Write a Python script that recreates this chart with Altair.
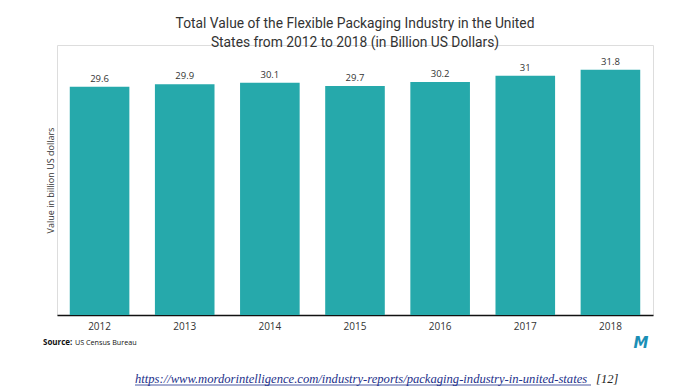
import altair as alt
import pandas as pd

years = ["2012", "2013", "2014", "2015", "2016", "2017", "2018"]
values = [29.6, 29.9, 30.1, 29.7, 30.2, 31.0, 31.8]
value_labels = ["29.6", "29.9", "30.1", "29.7", "30.2", "31", "31.8"]

title_lines = ["Total Value of the Flexible Packaging Industry in the United",
               "States from 2012 to 2018 (in Billion US Dollars)"]
y_title = "Value in billion US dollars"
source_bold = "Source:"
source_text = "US Census Bureau"
url_text = "https://www.mordorintelligence.com/industry-reports/packaging-industry-in-united-states"
ref_text = "[12]"

df = pd.DataFrame({"year": years, "value": values, "label": value_labels})

BAR = "#26a9ab"
TXT = "#333333"

x_enc = alt.X("year:N", sort=years,
              scale=alt.Scale(paddingInner=0.3, paddingOuter=0.15),
              axis=alt.Axis(title=None, labelAngle=0, ticks=False, domainColor="#111111",
                            domainWidth=1.5, labelFontSize=10, labelColor=TXT,
                            labelFont="Open Sans", labelPadding=6))
y_enc = alt.Y("value:Q", scale=alt.Scale(domain=[0, 35], nice=False),
              axis=alt.Axis(title=y_title, labels=False, ticks=False, domain=False, grid=False,
                            titleFontSize=9, titleFont="Open Sans", titleColor=TXT,
                            titleFontWeight="normal", titlePadding=2))

bars = alt.Chart(df).mark_bar(color=BAR).encode(x=x_enc, y=y_enc)
labels = alt.Chart(df).mark_text(baseline="bottom", dy=-3, fontSize=9.5, font="Open Sans",
                                 color=TXT).encode(x=alt.X("year:N", sort=years), y="value:Q",
                                                   text="label:N")

extra = pd.DataFrame({"a": [0]})
src1 = alt.Chart(extra).mark_text(text=source_bold, align="left", baseline="middle", fontSize=8,
                                  fontWeight="bold", font="Open Sans", color="#111111").encode(
    x=alt.value(-14), y=alt.value(298))
src2 = alt.Chart(extra).mark_text(text=source_text, align="left", baseline="middle", fontSize=7.2,
                                  font="Open Sans", color="#111111").encode(
    x=alt.value(18), y=alt.value(298))
logo = alt.Chart(extra).mark_text(text="M", align="center", baseline="middle", fontSize=15,
                                  fontWeight="bold", font="DejaVu Sans", fontStyle="italic",
                                  color="#1b8fb5").encode(
    x=alt.value(584), y=alt.value(298))
url = alt.Chart(extra).mark_text(text=url_text, align="left", baseline="alphabetic", fontSize=12.6,
                                 fontStyle="italic", font="Liberation Serif", color="#1c2f8a").encode(
    x=alt.value(78), y=alt.value(338))
underline = alt.Chart(extra).mark_rule(color="#1c2f8a", strokeWidth=0.8).encode(
    x=alt.value(78), x2=alt.value(534), y=alt.value(340))
ref = alt.Chart(extra).mark_text(text=ref_text, align="left", baseline="alphabetic", fontSize=12.6,
                                 fontStyle="italic", font="Liberation Serif", color="#222222").encode(
    x=alt.value(539), y=alt.value(338))

chart = alt.layer(bars, labels, src1, src2, logo, url, underline, ref).properties(
    width=596, height=270,
    title=alt.TitleParams(text=title_lines, anchor="middle", fontSize=13.8, font="Roboto",
                          fontWeight="normal", color=TXT, lineHeight=19, offset=-5),
    autosize=alt.AutoSizeParams(type="none"),
    padding={"left": 49, "top": 37, "right": 20, "bottom": 76},
).configure_view(stroke=None).configure(background="white")

chart.save("out.html", embed_options={"renderer": "svg", "actions": False})
